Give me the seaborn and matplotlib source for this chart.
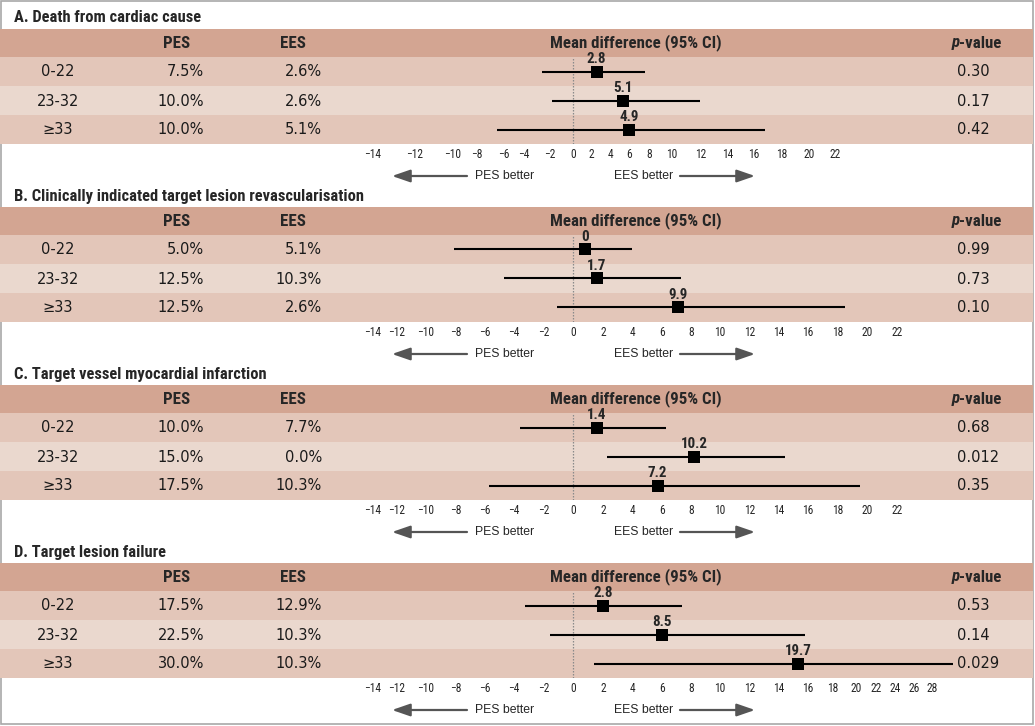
import numpy as np
import pandas as pd
import matplotlib
matplotlib.use("Agg")
import matplotlib.pyplot as plt
import seaborn as sns
from matplotlib import font_manager
from matplotlib.patches import Rectangle

# ---- data -------------------------------------------------------------
titles = [
    "A. Death from cardiac cause",
    "B. Clinically indicated target lesion revascularisation",
    "C. Target vessel myocardial infarction",
    "D. Target lesion failure",
]
groups = ["0-22", "23-32", "\u226533"]
pes_rates = [["7.5%", "10.0%", "10.0%"], ["5.0%", "12.5%", "12.5%"],
             ["10.0%", "15.0%", "17.5%"], ["17.5%", "22.5%", "30.0%"]]
ees_rates = [["2.6%", "2.6%", "5.1%"], ["5.1%", "10.3%", "2.6%"],
             ["7.7%", "0.0%", "10.3%"], ["12.9%", "10.3%", "10.3%"]]
diff_labels = [["2.8", "5.1", "4.9"], ["0", "1.7", "9.9"],
               ["1.4", "10.2", "7.2"], ["2.8", "8.5", "19.7"]]
p_values = [["0.30", "0.17", "0.42"], ["0.99", "0.73", "0.10"],
            ["0.68", "0.012", "0.35"], ["0.53", "0.14", "0.029"]]
# where the squares and CI whiskers sit on each panel's axis
est_drawn = [[2.6, 5.4, 6.0], [0.8, 1.6, 7.1], [1.6, 8.2, 5.7], [2.0, 6.0, 15.3]]
ci_low = [[-2.6, -1.8, -6.5], [-8.1, -4.7, -1.1], [-3.6, 2.3, -5.7], [-3.3, -1.6, 1.4]]
ci_high = [[7.6, 11.9, 16.8], [4.0, 7.3, 18.5], [6.3, 14.4, 19.5], [7.4, 15.8, 30.3]]
tick_values = [list(range(-14, 23, 2))] * 3 + [list(range(-14, 29, 2))]

# ---- layout (pixels) ---------------------------------------------------
W, H = 1035, 726
PANEL_STEP = 178
# drawn tick spacing of the original axes is uneven, so each panel gets its own scale
tick_px = [
    [373, 415, 453, 477, 504, 524, 550, 573, 591, 610, 629, 649, 672, 701, 728, 754, 782, 809, 835],
    [373, 397, 426, 456, 485, 514, 544, 573, 603, 632, 662, 691, 720, 750, 779, 808, 838, 867, 897],
    [373, 397, 426, 456, 485, 514, 544, 573, 603, 632, 662, 691, 720, 750, 779, 808, 838, 867, 897],
    [373, 397, 426, 456, 485, 514, 544, 573, 603, 632, 662, 691, 720, 750, 779, 808, 833, 856, 876,
     895, 914, 932],
]

HEADER_C = "#d3a592"
ROW_DARK = "#e3c6b9"
ROW_LIGHT = "#ead8ce"
ARROW_C = "#555555"

# ---- fonts -------------------------------------------------------------
available = {f.name for f in font_manager.fontManager.ttflist}


def pick(cands, fallback):
    for c in cands:
        if c in available:
            return c
    return fallback


COND = pick(["Roboto Condensed", "DejaVu Sans Condensed", "Liberation Sans Narrow",
             "Open Sans Condensed"], "DejaVu Sans")
REG = "DejaVu Sans"
NARROW = pick(["Liberation Sans", "Arial"], "DejaVu Sans")

sns.set_theme(style="white")
plt.rcParams["font.family"] = [REG]


def piecewise(vals, px):
    vals = np.asarray(vals, float)
    px = np.asarray(px, float)

    def _map(x, xs, ys):
        x = np.asarray(x, float)
        out = np.interp(x, xs, ys)
        lo = (ys[1] - ys[0]) / (xs[1] - xs[0])
        hi = (ys[-1] - ys[-2]) / (xs[-1] - xs[-2])
        out = np.where(x < xs[0], ys[0] + (x - xs[0]) * lo, out)
        out = np.where(x > xs[-1], ys[-1] + (x - xs[-1]) * hi, out)
        return out

    return (lambda x: _map(x, vals, px)), (lambda p: _map(p, px, vals))


fig = plt.figure(figsize=(W / 100, H / 100), dpi=100)
bg = fig.add_axes([0, 0, 1, 1], zorder=0)
bg.set_xlim(0, W)
bg.set_ylim(H, 0)
bg.axis("off")

# outer frame
bg.add_patch(Rectangle((1, 1), W - 3, H - 3, fill=False, ec="#a8a8a8", lw=1.2, zorder=0))

for k in range(4):
    off = k * PANEL_STEP
    # title
    bg.text(14, 18 + off, titles[k], family=COND, fontweight="bold", fontsize=11.9,
            ha="left", va="center")
    # header band + rows
    bg.add_patch(Rectangle((0, 29 + off), W - 2, 28, color=HEADER_C, lw=0, zorder=1))
    for r in range(3):
        bg.add_patch(Rectangle((0, 57 + off + 29 * r), W - 2, 29,
                               color=ROW_LIGHT if r == 1 else ROW_DARK, lw=0, zorder=1))
    hy = 43 + off
    hkw = dict(family=COND, fontweight="bold", fontsize=12.2, va="center", zorder=3)
    bg.text(176.5, hy, "PES", ha="center", **hkw)
    bg.text(280, hy, "EES", ha="left", **hkw)
    bg.text(636, hy, "Mean difference (95% CI)", ha="center", **hkw)
    bg.text(960, hy, "p", ha="right", style="italic", **hkw)
    bg.text(959, hy, "-value", ha="left", **hkw)

    for r in range(3):
        ry = 72 + off + 29 * r
        tkw = dict(family=REG, fontsize=10.5, va="center", zorder=3, color="#1a1a1a")
        bg.text(58, ry, groups[r], ha="center", **tkw)
        bg.text(204, ry, pes_rates[k][r], ha="right", **tkw)
        bg.text(322, ry, ees_rates[k][r], ha="right", **tkw)
        bg.text(957, ry, p_values[k][r], ha="left", **tkw)

    # direction arrows
    ay = 176 + off
    akw = dict(arrowstyle="-|>,head_length=1.1,head_width=0.38", color=ARROW_C, lw=1.6,
               mutation_scale=10, shrinkA=0, shrinkB=0)
    bg.annotate("", xy=(392, ay), xytext=(467, ay), arrowprops=akw)
    bg.annotate("", xy=(755, ay), xytext=(680, ay), arrowprops=akw)
    bg.text(475, ay, "PES better", family=NARROW, fontsize=8.8, ha="left", va="center")
    bg.text(673, ay, "EES better", family=NARROW, fontsize=8.8, ha="right", va="center")

    # forest plot for the three rows
    df = pd.DataFrame({
        "row": [0, 1, 2],
        "est": est_drawn[k],
        "lo": ci_low[k],
        "hi": ci_high[k],
        "label": diff_labels[k],
    })
    top = 57 + off
    ax = fig.add_axes([0, 1 - (top + 87) / H, 1, 87 / H], zorder=2)
    fwd, inv = piecewise(tick_values[k], tick_px[k])
    ax.set_xscale("function", functions=(fwd, inv))
    ax.patch.set_alpha(0)

    ax.axvline(0, color="#8a8a8a", lw=0.9, ls=(0, (1.2, 1.2)), zorder=1)
    ax.hlines(df["row"], df["lo"], df["hi"], color="black", lw=1.5, zorder=2)
    sns.scatterplot(data=df, x="est", y="row", marker="s", s=70, color="black",
                    linewidth=0, ax=ax, legend=False, zorder=3)
    for _, rw in df.iterrows():
        ax.annotate(rw["label"], (rw["est"], rw["row"]), xytext=(0, 5.8),
                    textcoords="offset points", ha="center", va="baseline",
                    family=COND, fontweight="bold", fontsize=10.8, zorder=4)

    ax.set_xlim(float(inv(0)), float(inv(W)))
    ax.set_ylim(2.5, -0.5)
    ax.set_xticks(tick_values[k])
    ax.set_xticklabels([("\u2212" + str(-v)) if v < 0 else str(v) for v in tick_values[k]],
                       family=COND, fontsize=8.3)
    ax.minorticks_off()
    ax.tick_params(axis="x", length=0, pad=2.6)
    ax.set_yticks([])
    ax.set_xlabel("")
    ax.set_ylabel("")
    for s in ax.spines.values():
        s.set_visible(False)

fig.savefig("out.png", dpi=100)
